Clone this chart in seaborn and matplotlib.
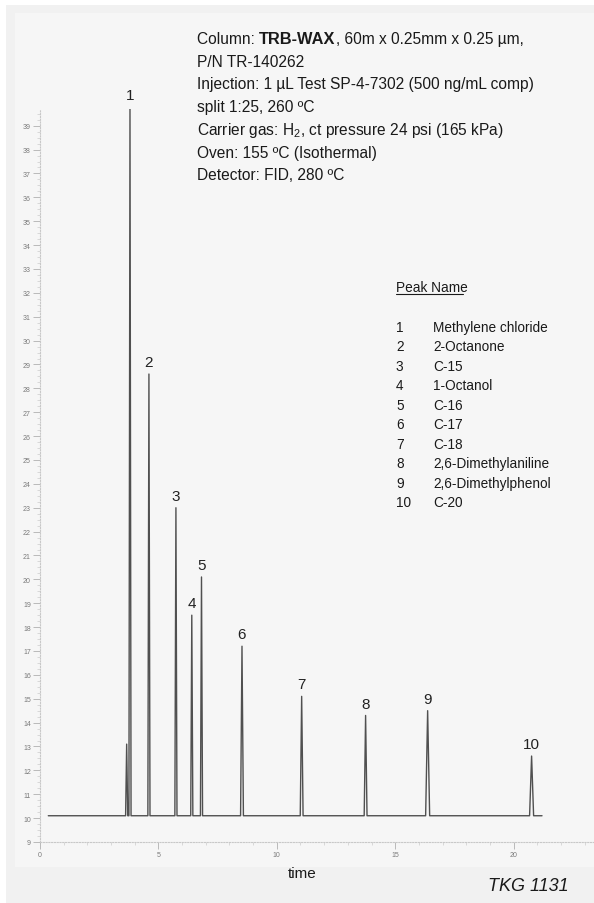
import matplotlib
matplotlib.use("Agg")
import matplotlib.pyplot as plt
from matplotlib.lines import Line2D
from matplotlib.patches import Rectangle
from matplotlib.text import Annotation
from matplotlib.ticker import MultipleLocator, FixedLocator
import seaborn as sns
import pandas as pd
import numpy as np

# ---------------- data ----------------
peak_labels = ["1", "2", "3", "4", "5", "6", "7", "8", "9", "10"]
peak_names = ["Methylene chloride", "2-Octanone", "C-15", "1-Octanol", "C-16",
              "C-17", "C-18", "2,6-Dimethylaniline", "2,6-Dimethylphenol", "C-20"]
peak_times = [3.80, 4.60, 5.74, 6.41, 6.82, 8.53, 11.05, 13.75, 16.37, 20.76]
peak_heights = [39.8, 28.6, 23.0, 18.5, 20.1, 17.2, 15.1, 14.3, 14.5, 12.6]
minor_times = [3.66]
minor_heights = [13.1]
baseline_level = 10.1
run_start = 0.35
run_end = 21.2
x_ticks = [0, 5, 10, 15, 20]
y_ticks = list(range(9, 40))

header_lines = [
    None,  # first line composed separately (bold part)
    "P/N TR-140262",
    "Injection: 1 µL Test SP-4-7302 (500 ng/mL comp)",
    "split 1:25, 260 ºC",
    "Carrier gas: H$_2$, ct pressure 24 psi (165 kPa)",
    "Oven: 155 ºC (Isothermal)",
    "Detector: FID, 280 ºC",
]

# ---------------- style ----------------
sns.set_style("white")
FONT = ["Liberation Sans", "DejaVu Sans"]
plt.rcParams["font.family"] = FONT
plt.rcParams["mathtext.fontset"] = "custom"
plt.rcParams["mathtext.rm"] = "Liberation Sans"
plt.rcParams["mathtext.it"] = "Liberation Sans:italic"
plt.rcParams["mathtext.bf"] = "Liberation Sans:bold"

W, H, DPI = 594, 904, 100
fig = plt.figure(figsize=(W / DPI, H / DPI), dpi=DPI, facecolor="white")


def fx(x):
    return x / W


def fy(y):
    return 1 - y / H


# background panels
fig.add_artist(Rectangle((fx(6), 0), 1 - fx(6), fy(6), transform=fig.transFigure,
                         facecolor="#f1f1f1", edgecolor="none", zorder=-10))
fig.add_artist(Rectangle((fx(15), fy(868)), 1 - fx(15), fy(14) - fy(868),
                         transform=fig.transFigure, facecolor="#f6f6f6",
                         edgecolor="none", zorder=-9))

ax = fig.add_axes([fx(40), fy(843), 1 - fx(40), fy(110) - fy(843)])
ax.set_facecolor("none")

# ---------------- trace ----------------
all_t = peak_times + minor_times
all_h = peak_heights + minor_heights
order = np.argsort(all_t)
xs, ys = [run_start], [baseline_level]
for i in order:
    t, h = all_t[i], all_h[i]
    w = 0.045 if t < 7 else (0.06 if t < 15 else 0.085)
    xs += [t - w, t, t + w]
    ys += [baseline_level, h, baseline_level]
xs.append(run_end)
ys.append(baseline_level)
trace = pd.DataFrame({"time": xs, "signal": ys})
sns.lineplot(data=trace, x="time", y="signal", sort=False, estimator=None,
             color="#505050", linewidth=1.0, ax=ax)

ax.set_xlim(0, (W - 40) / 23.68)
ax.set_ylim(9, 39.7)

# peak number labels
for lab, t, h in zip(peak_labels, peak_times, peak_heights):
    ax.annotate(lab, xy=(t, h), xytext=(0, 3.5), textcoords="offset points",
                ha="center", va="bottom", fontsize=11, color="#222222",
                annotation_clip=False)

# axes styling
for s in ["top", "right"]:
    ax.spines[s].set_visible(False)
for s in ["left", "bottom"]:
    ax.spines[s].set_color("#c8c8c8")
    ax.spines[s].set_linewidth(0.8)
    ax.spines[s].set_linestyle((0, (1, 1.5)))

ax.xaxis.set_major_locator(FixedLocator(x_ticks))
ax.xaxis.set_minor_locator(MultipleLocator(1))
ax.yaxis.set_major_locator(FixedLocator(y_ticks))
ax.yaxis.set_minor_locator(MultipleLocator(0.25))
ax.set_xticklabels([str(v) for v in x_ticks])
ax.set_yticklabels([str(v) for v in y_ticks])
ax.tick_params(axis="both", which="major", direction="out", length=5, width=0.6,
               color="#b0b0b0", labelsize=5, labelcolor="#7a7a7a", pad=1.5,
               left=True, bottom=True)
ax.tick_params(axis="both", which="minor", direction="out", length=2, width=0.5,
               color="#cccccc", left=True, bottom=True)
ax.set_xlabel("")
ax.set_ylabel("")

# ---------------- text ----------------
HDR_FS = 11.2
base_x = fx(197)
first = fig.text(base_x, fy(44), "Column: ", fontsize=HDR_FS, color="#1a1a1a",
                 va="baseline", ha="left")
ann1 = fig.add_artist(Annotation(
    "TRB-WAX", xy=(1, 0), xycoords=first, va="bottom", ha="left",
    fontsize=HDR_FS + 0.6, fontweight="bold", color="#1a1a1a"))
fig.add_artist(Annotation(
    ", 60m x 0.25mm x 0.25 µm,", xy=(1, 0), xycoords=ann1, va="bottom", ha="left",
    fontsize=HDR_FS, color="#1a1a1a"))

baselines = [44, 67, 89, 112, 135, 158, 180]
for line, b in zip(header_lines, baselines):
    if line is None:
        continue
    fig.text(base_x, fy(b), line, fontsize=HDR_FS, color="#1a1a1a",
             va="baseline", ha="left")

# peak table
TAB_FS = 9.8
fig.text(fx(396), fy(292), "Peak Name", fontsize=TAB_FS, color="#1a1a1a",
         va="baseline", ha="left")
fig.add_artist(Line2D([fx(396), fx(463)], [fy(294.5), fy(294.5)],
                      transform=fig.transFigure, color="#1a1a1a", linewidth=0.8))
for i, (lab, name) in enumerate(zip(peak_labels, peak_names)):
    yb = 332 + 19.45 * i
    fig.text(fx(396), fy(yb), lab, fontsize=TAB_FS, color="#1a1a1a",
             va="baseline", ha="left")
    fig.text(fx(433), fy(yb), name, fontsize=TAB_FS, color="#1a1a1a",
             va="baseline", ha="left")

fig.text(fx(302), fy(874), "time", fontsize=11, color="#1a1a1a",
         va="center", ha="center")
fig.text(fx(528), fy(887), "TKG 1131", fontsize=13, style="italic",
         color="#1a1a1a", va="center", ha="center")

fig.savefig("out.png", dpi=DPI, facecolor=fig.get_facecolor())
